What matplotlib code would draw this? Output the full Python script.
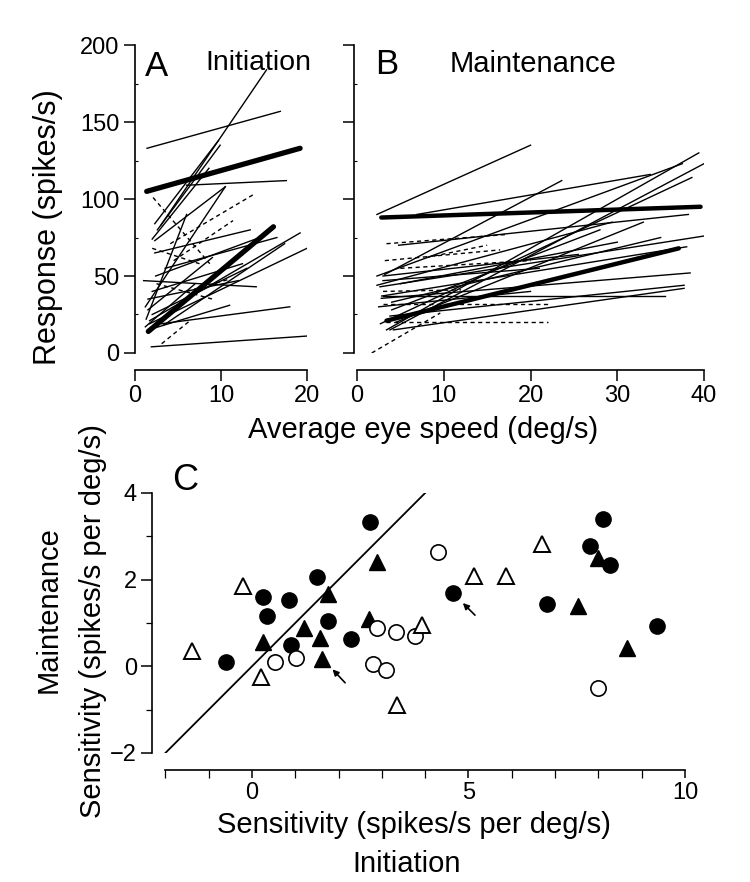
import matplotlib
matplotlib.use("Agg")
import matplotlib.pyplot as plt
from matplotlib.ticker import MultipleLocator

plt.rcParams['font.family'] = ['Liberation Sans', 'DejaVu Sans']

# panel A (initiation): regression lines (x0, y0, x1, y1)
a_thin = [
    (1.4, 133, 16.9, 157), (3.0, 83, 15.3, 184), (6.0, 109, 17.6, 112),
    (2.3, 84, 9.7, 138), (2.6, 80, 9.9, 135), (2.0, 74, 8.6, 120),
    (2.3, 73, 10.5, 108), (1.2, 30, 10.5, 108), (2.3, 65, 13.4, 80),
    (1.0, 47, 14.1, 43), (1.7, 19, 20.0, 68), (3.3, 18, 17.4, 71),
    (1.7, 21, 19.2, 78), (3.1, 19, 18.0, 30), (1.9, 4, 20.0, 11),
    (1.55, 15, 11.0, 31), (1.5, 28, 9.0, 62), (2.0, 40, 12.5, 58),
    (1.3, 22, 6.0, 90), (2.4, 50, 14.5, 75), (1.5, 35, 12.0, 47),
    (2.0, 25, 13.0, 55), (3.5, 55, 16.5, 75), (1.2, 17, 7.0, 45),
]
a_thick = [(1.36, 105, 19.2, 133), (1.55, 14, 16.1, 82)]
a_dashed = [
    (2.1, 101, 8.7, 58), (4.1, 71, 13.8, 103), (4.5, 60, 11.4, 86),
    (3.1, 6, 6.4, 21), (2.0, 68, 7.5, 58), (2.5, 45, 9.0, 35),
    (6.0, 40, 11.0, 48),
]

# panel B (maintenance)
b_thin = [
    (2.3, 90, 20.0, 135), (6.9, 90, 33.8, 116), (3.4, 15, 39.4, 130),
    (3.8, 15, 40.0, 123), (2.7, 19, 38.6, 114), (2.3, 50, 37.5, 123),
    (4.8, 70, 38.2, 90), (3.2, 51, 23.6, 112), (2.3, 44, 29.4, 85),
    (2.65, 43, 40.0, 76), (2.85, 37, 38.0, 69), (2.8, 35.5, 38.4, 52),
    (4.2, 15, 37.7, 42), (3.8, 24, 37.7, 44), (3.0, 37, 35.5, 37),
    (3.0, 50, 25.5, 64), (4.0, 28, 28.0, 80), (2.5, 30, 20.0, 40),
    (4.5, 20, 33.0, 85), (5.0, 45, 30.0, 72), (3.0, 47, 21.0, 55),
    (4.0, 33, 35.0, 75),
]
b_thick = [(2.8, 88, 39.6, 95), (3.4, 21, 37.1, 68)]
b_dashed = [
    (3.4, 20, 22.0, 20), (1.7, 0, 9.6, 26), (3.4, 71, 17.3, 77),
    (3.2, 60, 16.5, 67), (3.0, 32, 22.0, 32), (5.0, 55, 20.0, 60),
    (3.0, 40, 12.0, 41), (8.0, 62, 15.0, 70),
]

# panel C: sensitivity, initiation (x) vs maintenance (y)
filled_circle_x = [2.73, 1.49, 0.25, 0.86, 0.35, 1.76, 2.29, 0.90, -0.60,
                   4.65, 8.10, 7.81, 8.27, 6.82, 9.36]
filled_circle_y = [3.32, 2.07, 1.59, 1.52, 1.16, 1.05, 0.62, 0.48, 0.11,
                   1.70, 3.39, 2.78, 2.34, 1.43, 0.93]
filled_tri_x = [2.89, 1.75, 1.20, 2.71, 1.57, 0.26, 1.62, 8.00, 7.54, 8.65]
filled_tri_y = [2.41, 1.66, 0.89, 1.10, 0.66, 0.55, 0.16, 2.51, 1.39, 0.42]
open_tri_x = [-0.21, -1.39, 0.21, 3.92, 3.36, 6.69, 5.13, 5.87]
open_tri_y = [1.85, 0.35, -0.24, 0.95, -0.90, 2.82, 2.09, 2.09]
open_circle_x = [0.52, 1.01, 2.88, 3.33, 3.76, 2.80, 3.09, 4.30, 8.00]
open_circle_y = [0.10, 0.20, 0.89, 0.79, 0.70, 0.05, -0.09, 2.63, -0.49]
unity_x = [-2, 4]
unity_y = [-2, 4]
arrows = [((2.15, -0.38), (1.86, -0.07)), ((5.15, 1.18), (4.87, 1.46))]

fig = plt.figure(figsize=(7.5, 8.82), dpi=100)
axA = fig.add_axes([0.18, 0.5998, 0.2293, 0.349])
axB = fig.add_axes([0.476, 0.5998, 0.4627, 0.349])
axC = fig.add_axes([0.2032, 0.1463, 0.7101, 0.2948])


def draw_lines(ax, thin, thick, dashed, thick_w):
    for x0, y0, x1, y1 in thin:
        ax.plot([x0, x1], [y0, y1], color='black', lw=1.0)
    for x0, y0, x1, y1 in dashed:
        ax.plot([x0, x1], [y0, y1], color='black', lw=1.0, ls=(0, (3, 2.5)))
    for x0, y0, x1, y1 in thick:
        ax.plot([x0, x1], [y0, y1], color='black', lw=thick_w,
                solid_capstyle='round')


def style_top(ax, xmax, xstep):
    ax.set_ylim(0, 200)
    ax.set_xlim(0, xmax)
    for s in ['top', 'right']:
        ax.spines[s].set_visible(False)
    ax.spines['bottom'].set_position(('outward', 12))
    ax.spines['bottom'].set_bounds(0, xmax)
    ax.spines['left'].set_linewidth(1.2)
    ax.spines['bottom'].set_linewidth(1.2)
    ax.set_xticks(range(0, xmax + 1, xstep))
    ax.set_yticks(range(0, 201, 50))
    ax.yaxis.set_minor_locator(MultipleLocator(25))
    ax.tick_params(which='major', direction='out', length=8, width=1.1,
                   labelsize=17, pad=3)
    ax.tick_params(which='minor', direction='in', length=2.5, width=0.8)


draw_lines(axA, a_thin, a_thick, a_dashed, 3.8)
draw_lines(axB, b_thin, b_thick, b_dashed, 3.2)
style_top(axA, 20, 10)
style_top(axB, 40, 10)
axB.spines['left'].set_position(('outward', 2))
axB.tick_params(axis='y', labelleft=False)
fig.text(48 / 750, 1 - 227 / 882, 'Response (spikes/s)', fontsize=22,
         ha='center', va='center', rotation=90)

axA.text(0.06, 0.985, 'A', transform=axA.transAxes, fontsize=25,
         va='top', ha='left')
axA.text(0.72, 0.985, 'Initiation', transform=axA.transAxes, fontsize=20.5,
         va='top', ha='center')
axB.text(0.052, 0.99, 'B', transform=axB.transAxes, fontsize=25,
         va='top', ha='left')
axB.text(0.508, 0.985, 'Maintenance', transform=axB.transAxes, fontsize=21,
         va='top', ha='center')
fig.text(423 / 750, 1 - 430 / 882, 'Average eye speed (deg/s)', fontsize=21,
         ha='center', va='center')

# panel C
axC.plot(unity_x, unity_y, color='black', lw=1.3)
axC.plot(filled_circle_x, filled_circle_y, 'o', ms=11, mfc='black',
         mec='black', ls='none')
axC.plot(filled_tri_x, filled_tri_y, '^', ms=12, mfc='black', mec='black',
         ls='none')
axC.plot(open_circle_x, open_circle_y, 'o', ms=11, mfc='white', mec='black',
         mew=1.2, ls='none')
axC.plot(open_tri_x, open_tri_y, '^', ms=12, mfc='white', mec='black',
         mew=1.4, ls='none')
for tail, head in arrows:
    axC.annotate('', xy=head, xytext=tail,
                 arrowprops=dict(arrowstyle='-|>', color='black', lw=1.2,
                                 mutation_scale=9, shrinkA=0, shrinkB=0))

axC.set_xlim(-2.3, 10)
axC.set_ylim(-2, 4)
for s in ['top', 'right']:
    axC.spines[s].set_visible(False)
axC.spines['bottom'].set_position(('outward', 12))
axC.spines['bottom'].set_bounds(-2, 10)
axC.spines['left'].set_linewidth(1.2)
axC.spines['bottom'].set_linewidth(1.2)
axC.set_xticks([0, 5, 10])
axC.xaxis.set_minor_locator(MultipleLocator(1))
axC.set_yticks([-2, 0, 2, 4])
axC.yaxis.set_minor_locator(MultipleLocator(1))
axC.tick_params(which='major', direction='out', length=8, width=1.1,
                labelsize=17, pad=3)
axC.tick_params(which='minor', direction='out', length=4, width=0.9)
axC.tick_params(axis='x', which='minor', length=6)
axC.tick_params(axis='x', which='major', length=6)
axC.text(185 / 750, 1 - 480 / 882, 'C', transform=fig.transFigure,
         fontsize=26, ha='center', va='center')
fig.text(414 / 750, 1 - 825 / 882, 'Sensitivity (spikes/s per deg/s)',
         fontsize=21, ha='center', va='center')
fig.text(407 / 750, 1 - 864 / 882, 'Initiation', fontsize=21,
         ha='center', va='center')
fig.text(49 / 750, 1 - 610 / 882, 'Maintenance', fontsize=21,
         ha='center', va='center', rotation=90)
fig.text(93 / 750, 1 - 621 / 882, 'Sensitivity (spikes/s per deg/s)',
         fontsize=21, ha='center', va='center', rotation=90)

fig.savefig('out.png', dpi=100)
